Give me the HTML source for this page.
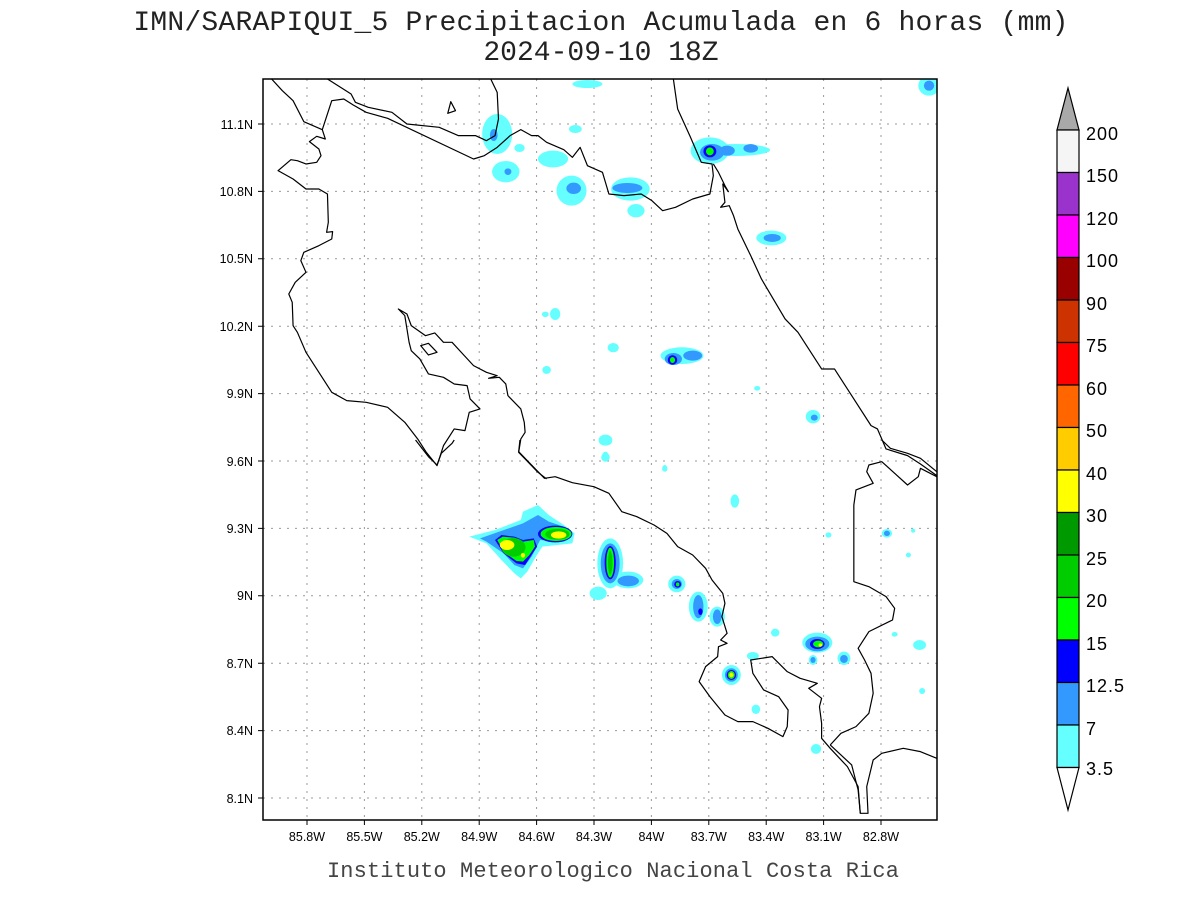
<!DOCTYPE html>
<html><head><meta charset="utf-8"><style>
html,body{margin:0;padding:0;background:#fff;}
svg{display:block;font-family:"Liberation Sans",sans-serif;}
.co{fill:none;stroke:#000;stroke-width:1.2;stroke-linejoin:round;vector-effect:non-scaling-stroke;}
</style></head><body>
<svg width="1200" height="900" viewBox="0 0 1200 900" xmlns="http://www.w3.org/2000/svg">
<rect width="1200" height="900" fill="#fff"/>
<text x="601" y="30" font-size="28" text-anchor="middle" fill="#222" font-family="Liberation Mono, monospace" letter-spacing="0.2">IMN/SARAPIQUI_5 Precipitacion Acumulada en 6 horas (mm)</text>
<text x="601" y="60" font-size="28" text-anchor="middle" fill="#222" font-family="Liberation Mono, monospace">2024-09-10 18Z</text>
<defs><clipPath id="c"><rect x="263" y="79" width="674" height="741"/></clipPath></defs>
<g clip-path="url(#c)">
<g stroke="#999" stroke-width="1" stroke-dasharray="2,6">
<line x1="307" y1="79" x2="307" y2="820"/><line x1="364.4" y1="79" x2="364.4" y2="820"/><line x1="421.8" y1="79" x2="421.8" y2="820"/><line x1="479.2" y1="79" x2="479.2" y2="820"/><line x1="536.6" y1="79" x2="536.6" y2="820"/><line x1="594" y1="79" x2="594" y2="820"/><line x1="651.4" y1="79" x2="651.4" y2="820"/><line x1="708.8" y1="79" x2="708.8" y2="820"/><line x1="766.2" y1="79" x2="766.2" y2="820"/><line x1="823.6" y1="79" x2="823.6" y2="820"/><line x1="881" y1="79" x2="881" y2="820"/>
<line x1="263" y1="124" x2="937" y2="124"/><line x1="263" y1="191.4" x2="937" y2="191.4"/><line x1="263" y1="258.8" x2="937" y2="258.8"/><line x1="263" y1="326.2" x2="937" y2="326.2"/><line x1="263" y1="393.6" x2="937" y2="393.6"/><line x1="263" y1="461" x2="937" y2="461"/><line x1="263" y1="528.4" x2="937" y2="528.4"/><line x1="263" y1="595.8" x2="937" y2="595.8"/><line x1="263" y1="663.2" x2="937" y2="663.2"/><line x1="263" y1="730.6" x2="937" y2="730.6"/><line x1="263" y1="798" x2="937" y2="798"/>
</g>
<g transform="translate(263,79) scale(0.4297,0.3333)">
<g fill="#66ffff">
<ellipse cx="755" cy="15" rx="35" ry="12"/><ellipse cx="1550" cy="20" rx="25" ry="30"/>
<ellipse cx="545" cy="165" rx="35" ry="60"/><ellipse cx="727" cy="150" rx="15" ry="12"/><ellipse cx="597" cy="207" rx="12" ry="12"/>
<ellipse cx="675" cy="240" rx="35" ry="25"/><ellipse cx="565" cy="278" rx="32" ry="32"/><ellipse cx="718" cy="335" rx="35" ry="45"/>
<ellipse cx="855" cy="330" rx="45" ry="35"/><ellipse cx="868" cy="395" rx="20" ry="20"/>
<ellipse cx="1040" cy="215" rx="45" ry="40"/><ellipse cx="1100" cy="213" rx="80" ry="18"/>
<ellipse cx="1183" cy="477" rx="35" ry="22"/><ellipse cx="680" cy="705" rx="12" ry="18"/><ellipse cx="657" cy="706" rx="8" ry="8"/>
<ellipse cx="815" cy="806" rx="13" ry="14"/><ellipse cx="975" cy="830" rx="50" ry="25"/><ellipse cx="660" cy="873" rx="10" ry="12"/>
<ellipse cx="1150" cy="928" rx="7" ry="7"/><ellipse cx="1280" cy="1013" rx="17" ry="20"/><ellipse cx="797" cy="1083" rx="16" ry="16"/><ellipse cx="797" cy="1135" rx="10" ry="13"/><ellipse cx="935" cy="1170" rx="6" ry="8"/>
</g>
<g fill="#3399ff">
<ellipse cx="537" cy="168" rx="9" ry="18"/><ellipse cx="570" cy="278" rx="8" ry="10"/><ellipse cx="723" cy="328" rx="17" ry="17"/><ellipse cx="848" cy="327" rx="35" ry="15"/>
<ellipse cx="1045" cy="220" rx="28" ry="25"/><ellipse cx="1080" cy="215" rx="18" ry="15"/><ellipse cx="1135" cy="208" rx="17" ry="13"/><ellipse cx="1185" cy="477" rx="20" ry="12"/>
<ellipse cx="955" cy="840" rx="20" ry="18"/><ellipse cx="1000" cy="830" rx="22" ry="15"/><ellipse cx="1283" cy="1016" rx="8" ry="9"/><ellipse cx="797" cy="1083" rx="6" ry="6"/><ellipse cx="1550" cy="20" rx="12" ry="15"/>
</g>
<g fill="#0000ff"><ellipse cx="1040" cy="217" rx="15" ry="18"/><ellipse cx="953" cy="843" rx="11" ry="14"/></g>
<g fill="#00ff00"><ellipse cx="1040" cy="217" rx="9" ry="12"/><ellipse cx="953" cy="843" rx="6" ry="9"/></g>
<polyline class="co" points="20,0 45,35 70,65 95,128 138,152 145,180 125,172 108,188 130,210 135,230 125,250 100,255 80,245 65,242 35,275 70,300 100,330 130,330 150,345 152,430 148,460 162,458 160,480 130,500 95,520 88,545 100,580 75,610 60,645 68,670 70,740 80,760 100,820 130,880 160,940 195,965 240,970 290,985 330,1030 360,1080 380,1120 405,1160 420,1100 445,1050 470,1055 480,1000 505,990 482,960 475,920 445,915 420,895 385,885 365,840 345,815 340,790 330,710 315,690 335,705 345,740 378,770 400,762 420,790 440,790 465,825 490,860 520,880 545,890 525,898 550,895 565,915 570,950 600,990 608,1030 610,1060 600,1080 595,1120 610,1140 640,1180 660,1200"/>
<polyline class="co" points="138,152 160,65 188,60 210,78 240,100 290,118 490,240 515,230 545,205 575,170 600,152 625,170 640,170 660,190 700,212 720,235 738,205 755,260 790,280 805,345 840,350 880,345 905,365 930,395 960,385 1000,360 1040,345 1048,290 1045,255 1020,250 1010,220 995,175 965,90 955,0"/>
<polyline class="co" points="150,0 205,45 215,70 245,85 300,100 335,135 410,145 455,170 495,170 520,185 540,170 548,120 545,40 530,0"/>
<polyline class="co" points="1048,255 1060,280 1075,320 1083,338 1070,315 1075,370 1065,385 1085,380 1095,410 1105,450 1135,530 1160,600 1215,720 1245,760 1300,870 1330,870 1360,930 1415,1040 1430,1050 1450,1110 1500,1130 1530,1155 1568,1190"/>
<polygon class="co" points="437,68 448,95 430,103"/>
<polygon class="co" points="367,800 385,793 405,820 385,828"/>
</g>
<g transform="translate(263,440) scale(0.4297,0.3333)">
<g fill="#66ffff">
<polygon points="480,290 540,270 600,240 605,215 640,195 665,225 700,255 725,280 720,310 650,320 635,350 615,395 600,415 585,400 555,360 520,310"/>
<ellipse cx="808" cy="370" rx="30" ry="75"/><ellipse cx="850" cy="420" rx="35" ry="25"/><ellipse cx="780" cy="460" rx="20" ry="20"/>
<ellipse cx="963" cy="432" rx="20" ry="25"/><ellipse cx="1013" cy="500" rx="22" ry="45"/><ellipse cx="1057" cy="530" rx="18" ry="30"/>
<ellipse cx="1090" cy="705" rx="22" ry="30"/><ellipse cx="1140" cy="648" rx="14" ry="12"/><ellipse cx="1147" cy="808" rx="10" ry="14"/><ellipse cx="1287" cy="927" rx="12" ry="15"/>
<ellipse cx="1290" cy="608" rx="35" ry="30"/><ellipse cx="1280" cy="660" rx="10" ry="15"/><ellipse cx="1352" cy="655" rx="15" ry="20"/>
<ellipse cx="1192" cy="578" rx="10" ry="12"/><ellipse cx="1098" cy="183" rx="10" ry="20"/><ellipse cx="797" cy="50" rx="8" ry="15"/><ellipse cx="797" cy="5" rx="15" ry="12"/><ellipse cx="935" cy="85" rx="6" ry="10"/>
<ellipse cx="1452" cy="280" rx="12" ry="13"/><ellipse cx="1316" cy="285" rx="7" ry="8"/><ellipse cx="1502" cy="345" rx="6" ry="7"/><ellipse cx="1470" cy="583" rx="7" ry="7"/><ellipse cx="1528" cy="615" rx="15" ry="15"/><ellipse cx="1534" cy="753" rx="7" ry="9"/><ellipse cx="1513" cy="272" rx="5" ry="6"/>
</g>
<g fill="#3399ff">
<polygon points="505,295 550,275 605,250 640,225 665,245 700,260 715,290 700,305 645,300 625,350 605,385 585,375 560,340 520,305"/>
<ellipse cx="808" cy="370" rx="22" ry="60"/><ellipse cx="850" cy="423" rx="25" ry="16"/>
<ellipse cx="963" cy="432" rx="12" ry="15"/><ellipse cx="1013" cy="500" rx="12" ry="35"/><ellipse cx="1057" cy="530" rx="10" ry="22"/>
<ellipse cx="1090" cy="705" rx="15" ry="20"/><ellipse cx="1290" cy="612" rx="28" ry="22"/><ellipse cx="1280" cy="660" rx="6" ry="9"/><ellipse cx="1352" cy="657" rx="9" ry="12"/><ellipse cx="1452" cy="280" rx="7" ry="8"/>
</g>
<g fill="#0000ff">
<polygon points="540,300 555,285 585,290 605,300 630,295 638,320 625,345 610,375 590,370 560,340"/>
<ellipse cx="680" cy="282" rx="40" ry="25"/><ellipse cx="808" cy="368" rx="13" ry="50"/><ellipse cx="965" cy="433" rx="8" ry="10"/><ellipse cx="1090" cy="705" rx="11" ry="15"/><ellipse cx="1290" cy="612" rx="17" ry="15"/><ellipse cx="1018" cy="515" rx="5" ry="10"/>
</g>
<g fill="#00ff00">
<polygon points="545,300 558,290 585,293 605,305 630,300 633,320 620,345 605,365 590,363 562,338"/>
<ellipse cx="682" cy="282" rx="36" ry="21"/><ellipse cx="808" cy="368" rx="9" ry="45"/><ellipse cx="965" cy="433" rx="4" ry="6"/><ellipse cx="1090" cy="705" rx="8" ry="12"/><ellipse cx="1292" cy="612" rx="12" ry="10"/>
</g>
<g fill="#00cc00">
<ellipse cx="583" cy="322" rx="28" ry="28"/><ellipse cx="685" cy="283" rx="28" ry="16"/><ellipse cx="808" cy="368" rx="5" ry="35"/>
</g>
<g fill="#ffff00">
<ellipse cx="568" cy="315" rx="17" ry="15"/><ellipse cx="605" cy="346" rx="5" ry="7"/><ellipse cx="688" cy="285" rx="18" ry="11"/><ellipse cx="1090" cy="705" rx="5" ry="7"/><ellipse cx="1297" cy="615" rx="4" ry="5"/>
</g>
<polyline class="co" points="355,0 385,50 405,75 415,40 440,10 445,0"/>
<polyline class="co" points="598,0 595,35 625,75 655,115 680,110 720,128 770,140 805,160 835,215 870,230 910,255 940,280 965,320 1000,345 1030,385 1045,420 1070,460 1075,490 1068,530 1080,580 1065,600 1080,610 1060,620 1058,650 1030,680 1015,725 1040,770 1075,825 1105,845 1140,845 1175,865 1210,890 1220,860 1222,810 1200,770 1165,750 1140,700 1135,660 1185,650 1220,695 1250,715 1290,730 1270,745 1300,775 1295,800 1300,850 1300,895 1320,925 1360,980 1385,1040 1390,1120 1408,1120 1405,1040 1420,960 1440,940 1490,925 1530,935 1568,955"/>
<polyline class="co" points="1320,915 1370,975 1385,1050 1390,1120"/>
<polyline class="co" points="1440,0 1460,25 1500,40 1530,55 1568,95"/>
<polyline class="co" points="1568,110 1530,85 1525,110 1500,135 1470,100 1440,65 1410,75 1405,95 1420,130 1380,150 1375,195 1375,425 1410,440 1450,470 1470,505 1465,540 1410,575 1385,625 1400,660 1415,700 1420,760 1410,820 1380,860 1345,880 1320,915"/>
</g>
</g>
<rect x="263" y="79" width="674" height="741" fill="none" stroke="#000" stroke-width="1.5"/>
<g stroke="#000" stroke-width="1">
<path d="M307,820v5M364.4,820v5M421.8,820v5M479.2,820v5M536.6,820v5M594,820v5M651.4,820v5M708.8,820v5M766.2,820v5M823.6,820v5M881,820v5"/>
<path d="M258,124h5M258,191.4h5M258,258.8h5M258,326.2h5M258,393.6h5M258,461h5M258,528.4h5M258,595.8h5M258,663.2h5M258,730.6h5M258,798h5"/>
</g>
<g font-size="12.5" fill="#000" text-anchor="middle">
<text x="307" y="841">85.8W</text><text x="364.4" y="841">85.5W</text><text x="421.8" y="841">85.2W</text><text x="479.2" y="841">84.9W</text><text x="536.6" y="841">84.6W</text><text x="594" y="841">84.3W</text><text x="651.4" y="841">84W</text><text x="708.8" y="841">83.7W</text><text x="766.2" y="841">83.4W</text><text x="823.6" y="841">83.1W</text><text x="881" y="841">82.8W</text>
</g>
<g font-size="12.5" fill="#000" text-anchor="end">
<text x="253" y="129">11.1N</text><text x="253" y="196">10.8N</text><text x="253" y="263">10.5N</text><text x="253" y="331">10.2N</text><text x="253" y="398">9.9N</text><text x="253" y="466">9.6N</text><text x="253" y="533">9.3N</text><text x="253" y="600">9N</text><text x="253" y="668">8.7N</text><text x="253" y="735">8.4N</text><text x="253" y="803">8.1N</text>
</g>
<text x="613" y="877" font-size="22" text-anchor="middle" fill="#444" font-family="Liberation Mono, monospace" letter-spacing="0.1">Instituto Meteorologico Nacional Costa Rica</text>
<g stroke="#000" stroke-width="1.2">
<polygon points="1068,88 1079,130 1057,130" fill="#a9a9a9"/>
<rect x="1057" y="130" width="22" height="42.5" fill="#f5f5f5"/>
<rect x="1057" y="172.5" width="22" height="42.5" fill="#9933cc"/>
<rect x="1057" y="215" width="22" height="42.5" fill="#ff00ff"/>
<rect x="1057" y="257.5" width="22" height="42.5" fill="#990000"/>
<rect x="1057" y="300" width="22" height="42.5" fill="#cc3300"/>
<rect x="1057" y="342.5" width="22" height="42.5" fill="#ff0000"/>
<rect x="1057" y="385" width="22" height="42.5" fill="#ff6600"/>
<rect x="1057" y="427.5" width="22" height="42.5" fill="#ffcc00"/>
<rect x="1057" y="470" width="22" height="42.5" fill="#ffff00"/>
<rect x="1057" y="512.5" width="22" height="42.5" fill="#009900"/>
<rect x="1057" y="555" width="22" height="42.5" fill="#00cc00"/>
<rect x="1057" y="597.5" width="22" height="42.5" fill="#00ff00"/>
<rect x="1057" y="640" width="22" height="42.5" fill="#0000ff"/>
<rect x="1057" y="682.5" width="22" height="42.5" fill="#3399ff"/>
<rect x="1057" y="725" width="22" height="42.5" fill="#66ffff"/>
<polygon points="1057,767.5 1079,767.5 1068,810" fill="#fff"/>
</g>
<g font-size="18" fill="#000" letter-spacing="1">
<text x="1086" y="140">200</text><text x="1086" y="182">150</text><text x="1086" y="225">120</text><text x="1086" y="267">100</text><text x="1086" y="310">90</text><text x="1086" y="352">75</text><text x="1086" y="395">60</text><text x="1086" y="437">50</text><text x="1086" y="480">40</text><text x="1086" y="522">30</text><text x="1086" y="565">25</text><text x="1086" y="607">20</text><text x="1086" y="650">15</text><text x="1086" y="692">12.5</text><text x="1086" y="735">7</text><text x="1086" y="775">3.5</text>
</g>
</svg>
</body></html>
